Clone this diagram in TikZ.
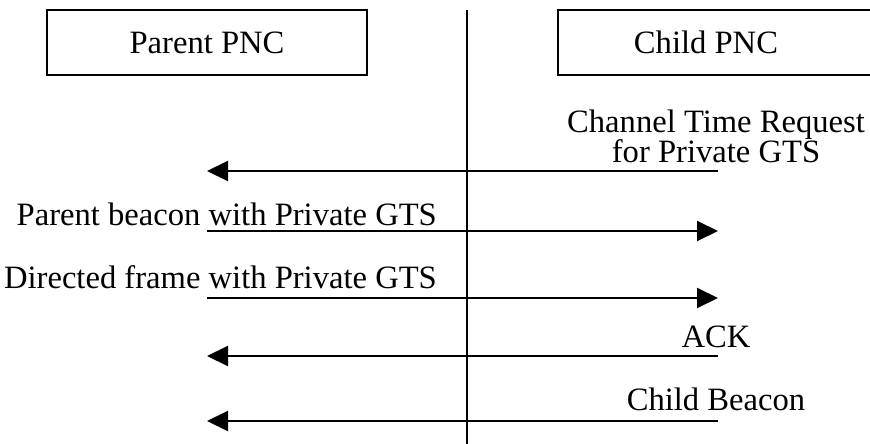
\documentclass[tikz,border=0pt]{standalone}
\usepackage{fontspec}
\setmainfont{Liberation Serif}
\usetikzlibrary{arrows.meta}
\tikzset{
  box/.style={draw=black, line width=1.8pt, minimum height=65pt, inner sep=0pt},
  lab/.style={font=\fontsize{32.6}{30}\selectfont, inner sep=0pt},
  msg/.style={draw=black, line width=2pt, -{Triangle[length=21pt,width=20pt]}},
  life/.style={draw=black, line width=1.8pt},
}

\begin{document}
\begin{tikzpicture}[x=1pt,y=-1pt]
  \useasboundingbox (0,0) rectangle (870,444);

  % boxes
  \node[box, minimum width=320pt, lab] (parent) at (207,42.5) {Parent PNC};
  \node[box, minimum width=330pt, anchor=west] (child) at (557,42.5) {};
  \node[lab] (childlab) at (706,42.5) {Child PNC};

  % middle line
  \coordinate (top) at (467,10);
  \coordinate (bot) at (467,446);
  \draw[life] (top) -- (bot);

  % message ends
  \coordinate (p1) at (207,171);
  \coordinate (c1) at (718,171);
  \coordinate (p2) at (207,231);
  \coordinate (c2) at (718,231);
  \coordinate (p3) at (207,298);
  \coordinate (c3) at (718,298);
  \coordinate (p4) at (207,356);
  \coordinate (c4) at (718,356);
  \coordinate (p5) at (207,421);
  \coordinate (c5) at (718,421);

  \draw[msg] (c1) -- (p1);
  \draw[msg] (p2) -- (c2);
  \draw[msg] (p3) -- (c3);
  \draw[msg] (c4) -- (p4);
  \draw[msg] (c5) -- (p5);

  % labels
  \node[lab, anchor=base] (req) at (716,132) {Channel Time Request};
  \node[lab, anchor=base] (req2) at (716,162) {for Private GTS};
  \node[lab, anchor=base east] (pbeacon) at (437,225) {Parent beacon with Private GTS};
  \node[lab, anchor=base east] (dframe) at (437,288) {Directed frame with Private GTS};
  \node[lab, anchor=base] (ack) at (716,347) {ACK};
  \node[lab, anchor=base] (cbeacon) at (716,410) {Child Beacon};
\end{tikzpicture}
\end{document}
